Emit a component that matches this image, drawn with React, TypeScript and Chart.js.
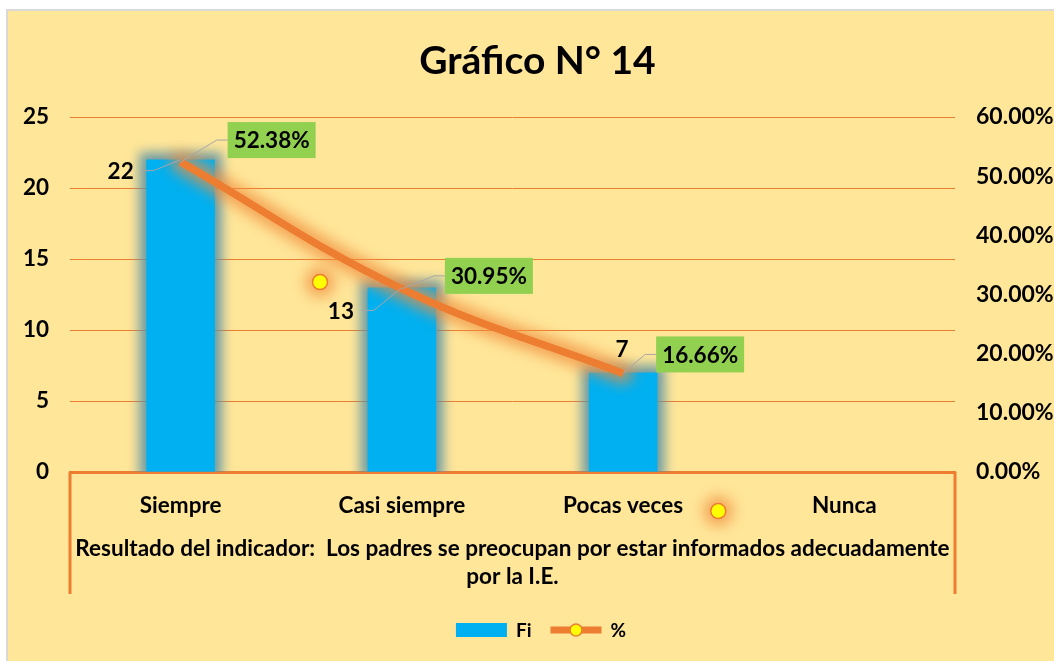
import React, { useEffect, useRef } from 'react';
import { Chart, registerables } from 'chart.js';

Chart.register(...registerables);

// ---- data ----
const chartTitle = 'Gráfico N° 14';
const categories = ['Siempre', 'Casi siempre', 'Pocas veces', 'Nunca'];
const fiValues = [22, 13, 7, 0];
const pctValues: (number | null)[] = [52.38, 30.95, 16.66, null];
const pctLabels = ['52.38%', '30.95%', '16.66%', ''];
// stray marker positions (category index, % value)
const strayMarkers = [
  { x: 0.63, y: 32.1 },
  { x: 2.43, y: -6.6 },
];
const xAxisTitle = [
  'Resultado del indicador:  Los padres se preocupan por estar informados adecuadamente',
  'por la I.E.',
];
const leftTickStep = 5;
const leftMax = 25;
const rightTickStep = 10;
const rightMax = 60;

// ---- styles ----
const FONT = 'Lato';
const ORANGE = '#ED7D31';
const BLUE = '#00B0F0';
const GREEN = '#92D050';
const YELLOW = '#FFFF00';
const LEADER = '#A6A6A6';
const TXT = 22.5;

const fiLabelOffsets: ([number, number] | null)[] = [[-60, 11], [-61, 23], [-1, -24], null];
const fiLeaders = [true, true, false, false];
const pctLabelOffsets: ([number, number] | null)[] = [[91, -22], [87, -13], [77, -19], null];

const glowPlugin = {
  id: 'glow',
  beforeDatasetDraw(chart: any, args: any) {
    const ds = chart.data.datasets[args.index];
    const ctx = chart.ctx;
    const area = chart.chartArea;
    if (ds.barHalo) {
      ctx.save();
      ctx.beginPath();
      ctx.rect(area.left, area.top, area.right - area.left, area.bottom - area.top);
      ctx.clip();
      ctx.filter = 'blur(6px)';
      ctx.fillStyle = ds.barHalo;
      args.meta.data.forEach((el: any) => {
        const p = el.getProps(['x', 'y', 'base', 'width'], true);
        if (Math.abs(p.base - p.y) < 1) return;
        ctx.fillRect(p.x - p.width / 2 - 7, p.y - 7, p.width + 14, p.base - p.y + 14);
      });
      ctx.restore();
    }
    if (ds.lineHalo && args.meta.dataset) {
      ctx.save();
      ctx.filter = 'blur(7px)';
      ctx.strokeStyle = ds.lineHalo;
      ctx.lineWidth = 20;
      ctx.lineCap = 'round';
      ctx.lineJoin = 'round';
      ctx.beginPath();
      args.meta.dataset.path(ctx);
      ctx.stroke();
      ctx.restore();
    }
    if (ds.pointHalo) {
      ctx.save();
      ctx.filter = 'blur(7px)';
      ctx.fillStyle = ds.pointHalo;
      args.meta.data.forEach((el: any) => {
        ctx.beginPath();
        ctx.arc(el.x, el.y, 15, 0, Math.PI * 2);
        ctx.fill();
      });
      ctx.restore();
    }
  },
  afterDatasetDraw(chart: any, args: any) {
    const ds = chart.data.datasets[args.index];
    if (ds.drawOutside) {
      const a = chart.chartArea;
      args.meta.data.forEach((el: any) => {
        if (el.x < a.left || el.x > a.right || el.y < a.top || el.y > a.bottom) el.draw(chart.ctx);
      });
    }
  },
};

const edgePlugin = {
  id: 'edgeLines',
  afterDraw(chart: any) {
    const { ctx, chartArea } = chart;
    ctx.save();
    ctx.strokeStyle = ORANGE;
    ctx.lineWidth = 3;
    ctx.beginPath();
    ctx.moveTo(chartArea.left, chartArea.bottom);
    ctx.lineTo(chartArea.left, chartArea.bottom + 122);
    ctx.moveTo(chartArea.right, chartArea.bottom);
    ctx.lineTo(chartArea.right, chartArea.bottom + 122);
    ctx.stroke();
    ctx.restore();
  },
};

const titlePlugin = {
  id: 'customTitle',
  afterDraw(chart: any) {
    const ctx = chart.ctx;
    ctx.save();
    ctx.font = `bold 39px ${FONT}`;
    ctx.fillStyle = '#000';
    ctx.textAlign = 'center';
    ctx.textBaseline = 'middle';
    ctx.fillText(chartTitle, 529.5, 50);
    ctx.restore();
  },
};

const labelPlugin = {
  id: 'valueLabels',
  afterDatasetsDraw(chart: any) {
    const ctx = chart.ctx;
    ctx.save();
    ctx.font = `bold ${TXT}px ${FONT}`;
    ctx.textBaseline = 'middle';
    ctx.textAlign = 'center';
    const barMeta = chart.getDatasetMeta(0);
    barMeta.data.forEach((el: any, i: number) => {
      const v = fiValues[i];
      const off = fiLabelOffsets[i];
      if (!v || !off) return;
      const cx = el.x + off[0];
      const cy = el.y + off[1];
      const text = String(v);
      const w = ctx.measureText(text).width;
      if (fiLeaders[i]) {
        const r = cx + w / 2;
        ctx.strokeStyle = LEADER;
        ctx.lineWidth = 1;
        ctx.beginPath();
        ctx.moveTo(r + 7, cy);
        ctx.lineTo(r + 20, cy);
        ctx.lineTo(el.x, el.y);
        ctx.stroke();
      }
      ctx.fillStyle = '#000';
      ctx.fillText(text, cx, cy + 1);
    });
    const lineMeta = chart.getDatasetMeta(1);
    lineMeta.data.forEach((el: any, i: number) => {
      const v = pctValues[i];
      const off = pctLabelOffsets[i];
      if (v == null || !off || el.skip) return;
      const cx = el.x + off[0];
      const cy = el.y + off[1];
      const bw = 88;
      const bh = 36;
      const L = cx - bw / 2;
      ctx.strokeStyle = LEADER;
      ctx.lineWidth = 1;
      ctx.beginPath();
      ctx.moveTo(el.x, el.y);
      ctx.lineTo(L - 11, cy);
      ctx.lineTo(L, cy);
      ctx.stroke();
      ctx.fillStyle = GREEN;
      ctx.fillRect(L, cy - bh / 2, bw, bh);
      ctx.fillStyle = '#000';
      ctx.fillText(pctLabels[i], cx, cy + 1);
    });
    ctx.restore();
  },
};

const legendPlugin = {
  id: 'customLegend',
  afterDraw(chart: any) {
    const ctx = chart.ctx;
    const cy = chart.height - 31;
    const centerX = 533;
    ctx.save();
    ctx.font = `bold 19px ${FONT}`;
    ctx.textBaseline = 'middle';
    ctx.textAlign = 'left';
    const t1 = chart.data.datasets[0].label;
    const t2 = chart.data.datasets[1].label;
    const boxW = 51;
    const gapText = 9;
    const gapItem = 19;
    const w1 = ctx.measureText(t1).width;
    const w2 = ctx.measureText(t2).width;
    const total = boxW + gapText + w1 + gapItem + boxW + gapText + w2;
    let x = centerX - total / 2;
    ctx.fillStyle = BLUE;
    ctx.fillRect(x, cy - 7, boxW, 14);
    ctx.fillStyle = '#000';
    ctx.fillText(t1, x + boxW + gapText, cy + 1);
    x += boxW + gapText + w1 + gapItem;
    ctx.strokeStyle = ORANGE;
    ctx.lineWidth = 7;
    ctx.beginPath();
    ctx.moveTo(x, cy);
    ctx.lineTo(x + boxW, cy);
    ctx.stroke();
    ctx.beginPath();
    ctx.arc(x + boxW / 2, cy, 6, 0, Math.PI * 2);
    ctx.fillStyle = YELLOW;
    ctx.fill();
    ctx.lineWidth = 1.5;
    ctx.stroke();
    ctx.fillStyle = '#000';
    ctx.fillText(t2, x + boxW + gapText, cy + 1);
    ctx.restore();
  },
};

export default function App() {
  const ref = useRef<HTMLCanvasElement>(null);
  useEffect(() => {
    if (!ref.current) return;
    const tickFont = { family: FONT, size: TXT, weight: 'bold' as const };
    const chart = new Chart(ref.current, {
      type: 'bar',
      data: {
        labels: categories,
        datasets: [
          {
            type: 'bar',
            label: 'Fi',
            data: fiValues,
            backgroundColor: BLUE,
            borderWidth: 0,
            grouped: false,
            categoryPercentage: 1,
            barPercentage: 0.31,
            yAxisID: 'y',
            order: 2,
            clip: 0,
            barHalo: 'rgba(90,145,165,0.9)',
          } as any,
          {
            type: 'line',
            label: '%',
            data: pctValues,
            borderColor: ORANGE,
            borderWidth: 7.5,
            borderCapStyle: 'butt',
            pointRadius: 0,
            tension: 0.4,
            fill: false,
            yAxisID: 'y1',
            order: 1,
            lineHalo: 'rgba(240,140,60,0.75)',
          } as any,
          {
            type: 'line',
            label: 'markers',
            data: strayMarkers,
            parsing: false,
            showLine: false,
            xAxisID: 'x',
            yAxisID: 'y1',
            pointRadius: 7.5,
            pointBackgroundColor: YELLOW,
            pointBorderColor: ORANGE,
            pointBorderWidth: 1.5,
            clip: false,
            order: 0,
            pointHalo: 'rgba(240,140,60,0.7)',
            drawOutside: true,
          } as any,
        ],
      },
      options: {
        responsive: false,
        animation: false,
        events: [],
        layout: { padding: { left: 0, right: 0, top: 106, bottom: 58 } },
        plugins: {
          legend: { display: false },
          tooltip: { enabled: false },
          title: { display: false },
        },
        scales: {
          x: {
            type: 'category',
            offset: true,
            grid: { display: false, drawTicks: false },
            border: { display: true, color: ORANGE, width: 3 },
            ticks: { color: '#000', font: tickFont, padding: 20, maxRotation: 0 },
            title: {
              display: true,
              text: xAxisTitle,
              color: '#000',
              font: { family: FONT, size: TXT, weight: 'bold', lineHeight: 1.25 },
              padding: { top: 0, bottom: 12 },
            },
            afterFit: (s: any) => {
              s.height = 131;
            },
          },
          y: {
            type: 'linear',
            position: 'left',
            min: 0,
            max: leftMax,
            ticks: { stepSize: leftTickStep, color: '#000', font: tickFont, padding: 21 },
            grid: { color: ORANGE, lineWidth: 1, drawTicks: false },
            border: { display: false },
            afterFit: (s: any) => {
              s.width = 62;
            },
          },
          y1: {
            type: 'linear',
            position: 'right',
            min: 0,
            max: rightMax,
            ticks: {
              stepSize: rightTickStep,
              color: '#000',
              font: { family: FONT, size: 23, weight: 'bold' },
              padding: 21,
              callback: (v: any) => Number(v).toFixed(2) + '%',
            },
            grid: { drawOnChartArea: false, drawTicks: false, display: false },
            border: { display: false },
            afterFit: (s: any) => {
              s.width = 99;
            },
          },
        },
      } as any,
      plugins: [glowPlugin, edgePlugin, labelPlugin, legendPlugin, titlePlugin],
    });
    return () => chart.destroy();
  }, []);

  return (
    <div
      style={{
        position: 'fixed',
        left: 6,
        top: 9,
        width: 1048,
        height: 652,
        boxSizing: 'border-box',
        borderTop: '2px solid #D9D9D9',
        borderLeft: '2px solid #D9D9D9',
        background: '#FFE699',
      }}
    >
      <canvas ref={ref} width={1046} height={650} style={{ display: 'block', width: 1046, height: 650 }} />
    </div>
  );
}
